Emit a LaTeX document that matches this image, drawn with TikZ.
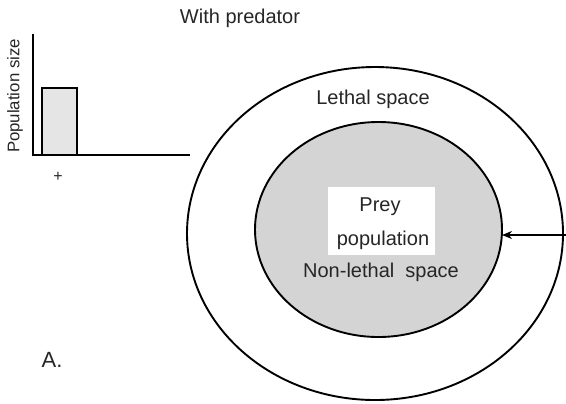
\documentclass[tikz,border=0pt]{standalone}
\usepackage{fontspec}
\setmainfont{Liberation Sans}
\usetikzlibrary{shapes.geometric,arrows.meta}

\begin{document}
\begin{tikzpicture}[
	x=0.5pt, y=-0.5pt,
	every node/.style={font=\fontsize{10}{12}\selectfont, text=black!85},
	space/.style={draw, ellipse, line width=0.95pt, inner sep=0pt, outer sep=0pt},
	axis/.style={line width=1pt},
	arrow/.style={-{Stealth[length=5pt, width=4pt]}, line width=0.9pt}
	]
	\useasboundingbox (0,0) rectangle (566,403);
	
	% Title
	\node (title) at (240,18) {With predator};
	
	% Bar chart
	\coordinate (origin) at (33,155);
	\coordinate (ytop) at (33,34);
	\coordinate (xend) at (190,155);
	\draw[axis] (ytop) -- (origin) -- (xend);
	\draw[line width=1.2pt, fill=black!10] (42,155) rectangle (77,88);
	\node[rotate=90, font=\fontsize{8.4}{10}\selectfont] (ylabel) at (15,96) {Population size};
	\node[font=\fontsize{8}{10}\selectfont] (plus) at (58,177) {+};
	
	% Spaces
	\node[space, minimum width=188pt, minimum height=166.5pt] (lethal) at (375,233.5) {};
	\node[space, fill=black!17, minimum width=123.5pt, minimum height=107.5pt] (nonlethal) at (378.5,229.5) {};
	\node (lethaltext) at (373,99) {Lethal space};
	\node[fill=white, minimum width=53.5pt, minimum height=34pt] (preybox) at (381.5,221) {};
	\node (prey) at (380,207) {Prey};
	\node (population) at (383,240) {population};
	\node (nonlethaltext) at (381,272) {Non-lethal\ \ space};
	
	% Predator arrow
	\coordinate (predator) at (566,235);
	\draw[arrow] (predator) -- (predator -| nonlethal.east);
	
	% Panel label
	\node[font=\fontsize{11}{13}\selectfont] (panel) at (52,360) {A.};
	
\end{tikzpicture}
\end{document}
